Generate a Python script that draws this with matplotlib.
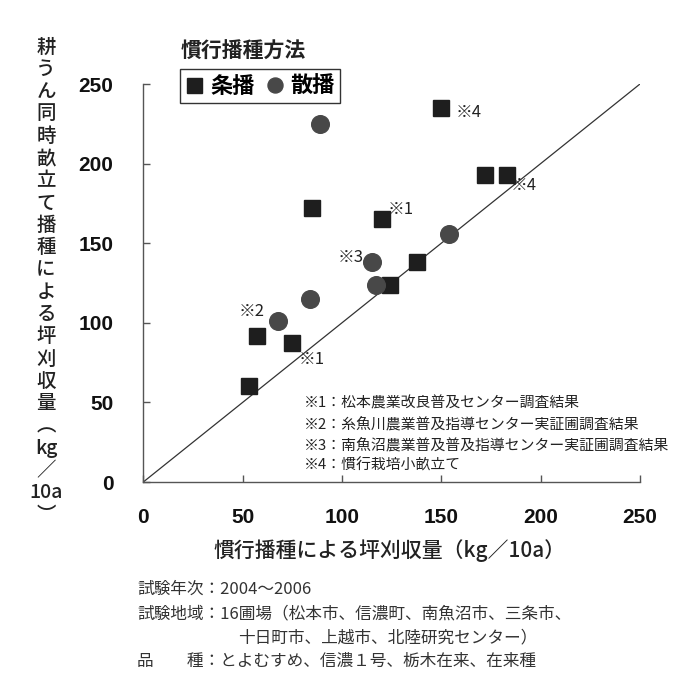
import matplotlib
matplotlib.use('Agg')
import matplotlib.pyplot as plt
from matplotlib.lines import Line2D

JP = 'Noto Sans CJK JP'
NUM = 'Liberation Sans'

# 条播 (drill seeding)
drill_x = [150, 172, 183, 85, 120, 138, 124, 57, 75, 53]
drill_y = [235, 193, 193, 172, 165, 138, 124, 92, 87, 60]
# 散播 (broadcast seeding)
broad_x = [89, 154, 115, 117, 84, 68]
broad_y = [225, 156, 138, 124, 115, 101]

ticks = [0, 50, 100, 150, 200, 250]

# point notes: label, x, y
note_labels = ['※4', '※4', '※1', '※3', '※2', '※1']
note_x = [157, 185, 123, 98, 48, 78]
note_y = [232, 186, 171, 141, 107, 77]

footnotes = ['※1：松本農業改良普及センター調査結果',
             '※2：糸魚川農業普及指導センター実証圃調査結果',
             '※3：南魚沼農業普及普及指導センター実証圃調査結果',
             '※4：慣行栽培小畝立て']

ylabel_rows = ['耕', 'う', 'ん', '同', '時', '畝', '立', 'て', '播', '種', 'に',
               'よ', 'る', '坪', '刈', '収', '量', '︵', 'kg', '／', '10a', '︶']

conditions = ['試験年次：2004～2006',
              '試験地域：16圃場（松本市、信濃町、南魚沼市、三条市、',
              '十日町市、上越市、北陸研究センター）',
              '品　　種：とよむすめ、信濃１号、栃木在来、在来種']

W, H = 687, 673
fig = plt.figure(figsize=(W / 100, H / 100), dpi=100)
ax = fig.add_axes([143.3 / W, 1 - 482 / H, (640 - 143.3) / W, (482 - 84) / H])

ax.plot([0, 250], [0, 250], color='#333333', lw=0.9, zorder=1)
ax.plot(drill_x, drill_y, 's', ms=11.3, color='#1e1e1e', ls='none', zorder=3)
ax.plot(broad_x, broad_y, 'o', ms=12.7, color='#484848', ls='none', zorder=3)

for lab, x, y in zip(note_labels, note_x, note_y):
    ax.text(x, y, lab, fontsize=12, family=JP, ha='left', va='center', color='#222222')

ax.set_xlim(0, 250)
ax.set_ylim(0, 250)
ax.set_xticks(ticks)
ax.set_yticks(ticks)
for s in ['top', 'right']:
    ax.spines[s].set_visible(False)
for s in ['left', 'bottom']:
    ax.spines[s].set_color('#555555')
    ax.spines[s].set_linewidth(1.0)
ax.tick_params(direction='in', length=5, width=1, color='#555555')
ax.tick_params(axis='x', pad=18.5)
ax.tick_params(axis='y', pad=21.5)
for lbl in ax.get_xticklabels() + ax.get_yticklabels():
    lbl.set_fontfamily(NUM)
    lbl.set_fontweight('bold')
    lbl.set_fontsize(15)
    lbl.set_color('#111111')

# footnotes inside the plot
for i, t in enumerate(footnotes):
    fig.text(304 / W, 1 - (403.3 + i * 20.7) / H, t, fontsize=10.7, family=JP,
             ha='left', va='center', color='#222222')

# legend
handles = [Line2D([], [], marker='s', ls='none', color='#1e1e1e', ms=10.8),
           Line2D([], [], marker='o', ls='none', color='#484848', ms=10.8)]
leg = ax.legend(handles, ['条播', '散播'], loc='upper left',
                bbox_to_anchor=(180 / W, 1 - 69.3 / H), bbox_transform=fig.transFigure,
                ncol=2, frameon=True, fancybox=False, framealpha=1, edgecolor='#333333',
                borderaxespad=0, borderpad=0.25, handlelength=0.8, handletextpad=0.3,
                columnspacing=0.5, prop={'family': JP, 'weight': 'bold', 'size': 16})
leg.get_frame().set_linewidth(1.0)
fig.text(181 / W, 1 - 51.7 / H, '慣行播種方法', fontsize=15, family=JP, weight='bold',
         ha='left', va='center', color='#222222')

# vertical y label
for i, ch in enumerate(ylabel_rows):
    fig.text(46 / W, 1 - (47 + i * 22.3) / H, ch, fontsize=14, family=JP,
             weight='medium', ha='center', va='center', color='#222222')

fig.text(390 / W, 1 - 551 / H, '慣行播種による坪刈収量（kg／10a）', fontsize=15,
         family=JP, weight='medium', ha='center', va='center', color='#222222')

# test conditions below
cond_x = [137, 137, 238, 137]
cond_y = [589, 613.5, 638, 661]
for t, x, y in zip(conditions, cond_x, cond_y):
    fig.text(x / W, 1 - y / H, t, fontsize=12, family=JP,
             ha='left', va='center', color='#333333')

fig.savefig('out.png', dpi=100)
